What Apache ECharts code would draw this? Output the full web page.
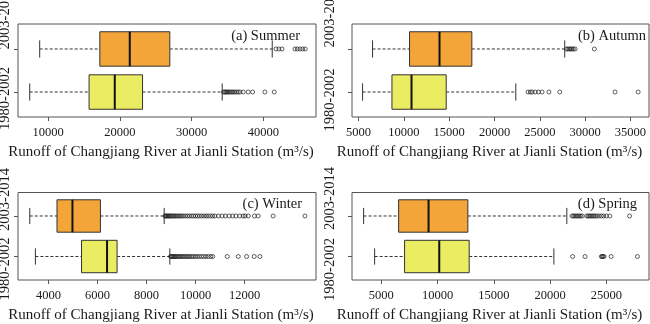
<!DOCTYPE html>
<html>
<head>
<meta charset="utf-8">
<script src="https://cdn.jsdelivr.net/npm/echarts@6/dist/echarts.min.js"></script>
<style>
  html, body { margin: 0; padding: 0; background: #fff; }
  #chart { width: 650px; height: 324px; }
</style>
</head>
<body>
<div id="chart"></div>
<script>
// Periods, bottom to top on each panel
const periods = ['1980-2002', '2003-2014'];
const panelTitles = ['(a) Summer', '(b) Autumn', '(c) Winter', '(d) Spring'];
const axisName = 'Runoff of Changjiang River at Jianli Station (m³/s)';

// Box statistics per period: [lower whisker, Q1, median, Q3, upper whisker]
const summerStats = [[7450, 15720, 19300, 23170, 34270], [8840, 17220, 21390, 26970, 41240]];
const autumnStats = [[5440, 8680, 10840, 14670, 22350], [6540, 10620, 13930, 17500, 27750]];
const winterStats = [[3470, 5350, 6390, 6800, 8950], [3240, 4350, 4980, 6120, 8720]];
const springStats = [[4410, 7070, 10150, 12810, 20330], [3430, 6540, 9200, 12690, 21480]];

// Outlying daily runoff values
const summerOut1980 = [34450, 34600, 34750, 34900, 35050, 35200, 35400, 35600, 35800, 36000, 36250, 36500, 36740, 37200, 37890, 38510, 40220, 41520];
const summerOut2003 = [41760, 42180, 42600, 44410, 44740, 45110, 45490, 45840];
const autumnOut1980 = [23700, 23950, 24150, 24500, 24850, 25250, 26000, 27200, 33300, 35850];
const autumnOut2003 = [27950, 28100, 28250, 28400, 28550, 28700, 28900, 31020];
const winterOut1980 = [8980, 9010, 9040, 9080, 9120, 9160, 9200, 9250, 9300, 9350, 9400, 9460, 9520, 9580, 9640, 9700, 9760, 9830, 9900, 9980, 10060, 10150, 10240, 10330, 10420, 10520, 10620, 10700, 11290, 11740, 12080, 12390, 12620];
const winterOut2003 = [8750, 8780, 8810, 8850, 8890, 8930, 8970, 9010, 9060, 9110, 9160, 9210, 9270, 9330, 9390, 9450, 9520, 9600, 9680, 9760, 9840, 9920, 10000, 10080, 10160, 10250, 10340, 10430, 10520, 10610, 10700, 10790, 10930, 11080, 11220, 11370, 11510, 11650, 11800, 11940, 12020, 12150, 12400, 12550, 13160, 14460];
const springOut1980 = [22000, 23100, 24550, 24620, 24700, 24780, 25420, 27750];
const springOut2003 = [21950, 22080, 22200, 22330, 22450, 22580, 22700, 22850, 23250, 23380, 23500, 23620, 23750, 23880, 24000, 24150, 24350, 24550, 24750, 25000, 25300, 27050];

// Axis ranges and tick labels
const xRanges = [[5816, 47340], [4272, 37050], [2760, 14910], [2400, 28780]];
const summerTicks = [10000, 20000, 30000, 40000];
const autumnTicks = [5000, 10000, 15000, 20000, 25000, 30000, 35000];
const winterTicks = [4000, 6000, 8000, 10000, 12000];
const springTicks = [5000, 10000, 15000, 20000, 25000];

const panelStats = [summerStats, autumnStats, winterStats, springStats];
const panelOutliers = [
  [summerOut1980, summerOut2003],
  [autumnOut1980, autumnOut2003],
  [winterOut1980, winterOut2003],
  [springOut1980, springOut2003]
];
const panelTicks = [summerTicks, autumnTicks, winterTicks, springTicks];

const boxColors = ['#EAEC62', '#F4A53A'];
const FONT = '"Liberation Serif", "DejaVu Serif", serif';
const INK = '#1a1a1a';
const FRAME = '#555';
const BOX_WIDTH = 0.8;   // in category units
const STAPLE = 0.4;

// Panel frames in pixels
const grids = [
  { left: 18, top: 24, width: 298, height: 93 },
  { left: 352, top: 24, width: 297, height: 93 },
  { left: 18, top: 192.5, width: 298, height: 93.5 },
  { left: 352, top: 192.5, width: 297, height: 93.5 }
];
const titleInset = [16, 3, 14, 12];
const namePad = [12, 22, 12, 22];
// Period label placement (centre x, centre y of [1980-2002, 2003-2014]) beside each frame
const periodLabelPos = [
  [5, [98.5, 18]],
  [330, [100, 16]],
  [5, [269, 199.5]],
  [330, [269.5, 198.5]]
];

function renderBox(params, api) {
  const pos = api.value(0);
  const lo = api.value(1), q1 = api.value(2), med = api.value(3), q3 = api.value(4), hi = api.value(5);
  const pLo = api.coord([lo, pos]);
  const pQ1 = api.coord([q1, pos]);
  const pMed = api.coord([med, pos]);
  const pQ3 = api.coord([q3, pos]);
  const pHi = api.coord([hi, pos]);
  const halfBox = api.size([0, BOX_WIDTH])[1] / 2;
  const halfStaple = api.size([0, STAPLE])[1] / 2;
  const y = pMed[1];
  const color = boxColors[params.dataIndex];
  const dashStyle = { stroke: '#333', lineWidth: 1, lineDash: [3, 2] };
  const solid = { stroke: '#333', lineWidth: 1 };
  return {
    type: 'group',
    children: [
      { type: 'line', shape: { x1: pLo[0], y1: y, x2: pQ1[0], y2: y }, style: dashStyle },
      { type: 'line', shape: { x1: pQ3[0], y1: y, x2: pHi[0], y2: y }, style: dashStyle },
      { type: 'line', shape: { x1: pLo[0], y1: y - halfStaple, x2: pLo[0], y2: y + halfStaple }, style: solid },
      { type: 'line', shape: { x1: pHi[0], y1: y - halfStaple, x2: pHi[0], y2: y + halfStaple }, style: solid },
      { type: 'rect', shape: { x: pQ1[0], y: y - halfBox, width: pQ3[0] - pQ1[0], height: halfBox * 2 },
        style: { fill: color, stroke: '#333', lineWidth: 1 } },
      { type: 'line', shape: { x1: pMed[0], y1: y - halfBox, x2: pMed[0], y2: y + halfBox },
        style: { stroke: '#111', lineWidth: 2 } }
    ]
  };
}

const graphics = [];
panelTitles.forEach((t, i) => {
  graphics.push({
    type: 'text',
    x: grids[i].left + grids[i].width - titleInset[i],
    y: grids[i].top + 12,
    style: { text: t, font: '14.5px ' + FONT, fill: INK, align: 'right', verticalAlign: 'middle' }
  });
  const [cx, cys] = periodLabelPos[i];
  periods.forEach((p, k) => {
    graphics.push({
      type: 'text',
      x: cx,
      y: cys[k],
      rotation: Math.PI / 2,
      style: { text: p, font: '14.5px ' + FONT, fill: INK, align: 'center', verticalAlign: 'middle' }
    });
  });
});

const option = {
  animation: false,
  backgroundColor: '#fff',
  grid: grids.map(g => Object.assign({ show: true, borderColor: FRAME, borderWidth: 1, backgroundColor: 'transparent' }, g)),
  xAxis: panelTicks.map((ticks, i) => ({
    type: 'value',
    gridIndex: i,
    min: xRanges[i][0],
    max: xRanges[i][1],
    splitLine: { show: false },
    axisLine: { show: false },
    axisTick: { show: true, length: 4, customValues: ticks, lineStyle: { color: FRAME } },
    axisLabel: {
      customValues: ticks,
      fontFamily: FONT, fontSize: 12.5, color: INK, margin: 9,
      hideOverlap: false,
      formatter: v => String(v)
    },
    name: axisName,
    nameLocation: 'middle',
    nameGap: 28,
    nameTextStyle: { fontFamily: FONT, fontSize: 15, color: INK, padding: [0, namePad[i], 0, 0] }
  })),
  yAxis: panelTicks.map((_, i) => ({
    type: 'value',
    gridIndex: i,
    min: 0.42,
    max: 2.58,
    splitLine: { show: false },
    axisLine: { show: false },
    axisTick: { show: true, length: 4, customValues: [1, 2], lineStyle: { color: FRAME } },
    axisLabel: { show: false }
  })),
  graphic: graphics,
  series: []
};

panelStats.forEach((stats, i) => {
  option.series.push({
    type: 'custom',
    xAxisIndex: i,
    yAxisIndex: i,
    renderItem: renderBox,
    encode: { x: [1, 2, 3, 4, 5], y: 0 },
    data: stats.map((s, k) => [k + 1].concat(s)),
    z: 2
  });
  panelOutliers[i].forEach((vals, k) => {
    option.series.push({
      type: 'scatter',
      xAxisIndex: i,
      yAxisIndex: i,
      symbol: 'circle',
      symbolSize: 4,
      itemStyle: { color: 'transparent', borderColor: '#222', borderWidth: 0.9 },
      data: vals.map(v => [v, k + 1]),
      z: 3
    });
  });
});

const chart = echarts.init(document.getElementById('chart'), null, { renderer: 'canvas' });
chart.setOption(option);
</script>
</body>
</html>
